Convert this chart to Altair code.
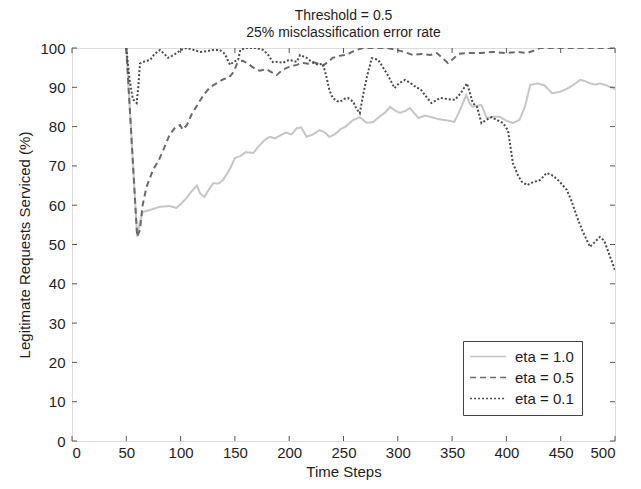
import altair as alt
import pandas as pd

# ---- data ----
series_names = ["eta = 1.0", "eta = 0.5", "eta = 0.1"]

eta10_x = [50, 60, 62, 65, 72, 81, 90, 96, 101, 106, 110, 115, 118, 122, 126, 130, 135, 139, 145,
           150, 155, 160, 167, 172, 177, 182, 187, 192, 197, 202, 207, 211, 216, 222, 228, 233, 237,
           242, 247, 252, 258, 265, 271, 277, 283, 288, 293, 298, 302, 307, 311, 315, 319, 325, 330,
           336, 342, 347, 352, 357, 363, 366, 369, 373, 377, 382, 388, 394, 400, 406, 412, 417, 422,
           429, 435, 442, 449, 455, 461, 468, 473, 477, 482, 486, 492, 498, 500]
eta10_y = [100, 52, 55, 58.3, 58.8, 59.6, 59.8, 59.3, 60.5, 62, 63.5, 65, 63, 62.1, 64, 65.6, 65.5,
           66.4, 69, 72, 72.5, 73.5, 73.3, 75, 76.5, 77.4, 77, 77.8, 78.5, 78, 79.6, 79.8, 77.4, 78,
           79.1, 78.5, 77.4, 78, 79.3, 80, 81.5, 82.4, 81, 81.1, 82.5, 83.5, 85, 84, 83.5, 84, 84.7,
           83.5, 82.2, 82.8, 82.5, 82, 81.7, 81.5, 81.2, 84, 88, 86, 85, 85.3, 85.5, 82.2, 82.5, 82.5,
           81.5, 80.9, 81.7, 85, 90.6, 91, 90.5, 88.5, 88.8, 89.5, 90.5, 91.9, 91.5, 91, 90.7, 91,
           90.5, 89.8, 89.5]

eta05_x = [50, 60, 62.6, 65, 68.7, 74.6, 80, 84, 90, 95, 99.5, 102, 106, 110, 115, 121, 127, 133,
           139, 145, 149, 152, 157, 162, 167, 173, 179, 184, 188.5, 194, 200, 207, 212, 218, 222,
           227, 231, 236, 240, 246, 253, 258, 262, 268, 290, 299, 306, 314, 322, 330, 336, 341, 346,
           350, 356, 363, 376, 388, 400, 410, 419, 425, 431, 500]
eta05_y = [100, 52, 53.7, 60, 64.7, 69, 71.5, 74, 78, 79.8, 80.4, 79.2, 80.5, 83, 85.3, 88, 90, 91,
           92, 92.6, 94, 96, 96.8, 96, 95, 94.2, 94.6, 93.8, 93.1, 94.5, 95.2, 95.7, 96.2, 96, 96.4,
           96, 95.5, 96.5, 97.5, 98, 98.3, 99, 99.5, 100, 100, 99.5, 99, 98.2, 98.5, 98.2, 98.7, 97.5,
           96.2, 97, 98.5, 98.7, 98.7, 99, 98.7, 99, 98.7, 99.3, 100, 100]

eta01_x = [50, 53, 56, 59.5, 61, 62.6, 66, 72, 76, 81, 85, 88.4, 92, 96.4, 100, 105.6, 112, 118,
           124, 130, 136, 140, 142, 145.5, 149, 153, 155, 160, 170, 176, 180, 185, 190, 194, 200,
           207, 210, 216, 222, 226, 231, 234, 237, 240, 244, 247, 250, 254, 259, 262, 265, 268, 271.5,
           276, 282, 286, 291, 297, 301, 306.6, 312, 317, 321, 325, 331, 339, 346, 352.6, 358, 363.6,
           366, 369, 373, 377, 382, 386.6, 391, 397, 401.5, 406, 410, 414, 419, 424, 431, 437, 443,
           449, 455.6, 460, 465, 470, 477, 481, 486, 490, 492.6, 496, 500]
eta01_y = [100, 92, 87, 86, 90, 96, 96.5, 97, 98.5, 99.5, 98.5, 97.5, 98, 98.7, 99.5, 100, 99.5, 99,
           99.2, 99.5, 99.5, 98.7, 97.8, 95.7, 96.5, 97, 99.5, 100, 100, 99.5, 98.5, 96.4, 96.5, 96.2,
           97, 96.5, 98.2, 97.5, 96.2, 95.8, 96, 93, 89.3, 87.3, 86.5, 86.3, 87, 87.3, 86.3, 84.5,
           83.4, 88, 92.6, 97.4, 97, 95.2, 93, 89.8, 91, 91.9, 91, 90, 89.5, 88, 86, 87.3, 87, 86.8,
           88.5, 91, 89, 86, 85, 80.9, 81.8, 82.4, 81.7, 80.9, 79, 70.7, 68, 66, 65.1, 65.8, 66.4,
           68.2, 67.5, 66, 63.9, 61, 57, 53.5, 49.4, 50.5, 51.9, 51, 49.1, 46.5, 43.5]

x_ticks = [0, 50, 100, 150, 200, 250, 300, 350, 400, 450, 500]
y_ticks = [0, 10, 20, 30, 40, 50, 60, 70, 80, 90, 100]

rows = []
for name, xs, ys in [(series_names[0], eta10_x, eta10_y),
                     (series_names[1], eta05_x, eta05_y),
                     (series_names[2], eta01_x, eta01_y)]:
    for i, (a, b) in enumerate(zip(xs, ys)):
        rows.append({"series": name, "t": a, "v": b, "i": i})
df = pd.DataFrame(rows)
xt = pd.DataFrame({"t": x_ticks})
yt = pd.DataFrame({"v": y_ticks})

W, H = 543, 393
FONT = "Liberation Sans"
TXT = "#1e1e1e"
FRAME = "#555555"

xscale = alt.Scale(domain=[0, 500], nice=False, zero=False)
yscale = alt.Scale(domain=[0, 100], nice=False, zero=False)

x_axis = alt.Axis(title="Time Steps", values=x_ticks, ticks=False, domain=False,
                  grid=False, labelPadding=4, titlePadding=4, labelFontSize=15,
                  titleFontSize=15, labelFont=FONT, titleFont=FONT, labelOverlap=False,
                  labelColor=TXT, titleColor=TXT, titleFontWeight="normal")
y_axis = alt.Axis(title="Legitimate Requests Serviced (%)", values=y_ticks, ticks=False,
                  domain=False, grid=False, labelPadding=7, titlePadding=7,
                  labelOverlap=False, labelFontSize=15, titleFontSize=15, labelFont=FONT,
                  titleFont=FONT, labelColor=TXT, titleColor=TXT, titleFontWeight="normal")

lines = alt.Chart(df).mark_line(strokeWidth=2, clip=True).encode(
    x=alt.X("t:Q", scale=xscale, axis=x_axis),
    y=alt.Y("v:Q", scale=yscale, axis=y_axis),
    color=alt.Color("series:N",
                    scale=alt.Scale(domain=series_names, range=["#c6c6c6", "#6a6a6a", "#4a4a4a"]),
                    legend=alt.Legend(title=None, orient="none", legendX=391, legendY=293,
                                      strokeColor="#444444", fillColor="white", padding=8,
                                      labelFontSize=15, labelFont=FONT, labelColor=TXT,
                                      symbolType="M-1.4,0H4.6", symbolSize=144, symbolStrokeWidth=1.5,
                                      labelOffset=29, rowPadding=5)),
    strokeDash=alt.StrokeDash("series:N",
                              scale=alt.Scale(domain=series_names, range=[[1, 0], [6, 4], [2, 2]]),
                              legend=None),
    order="i:Q",
)

tick_b = alt.Chart(xt).mark_rule(color=FRAME, strokeWidth=1).encode(
    x=alt.X("t:Q", scale=xscale, axis=x_axis), y=alt.value(H), y2=alt.value(H - 5))
tick_t = alt.Chart(xt).mark_rule(color=FRAME, strokeWidth=1).encode(
    x=alt.X("t:Q", scale=xscale, axis=x_axis), y=alt.value(0), y2=alt.value(5))
tick_l = alt.Chart(yt).mark_rule(color=FRAME, strokeWidth=1).encode(
    y=alt.Y("v:Q", scale=yscale, axis=y_axis), x=alt.value(0), x2=alt.value(5))
tick_r = alt.Chart(yt).mark_rule(color=FRAME, strokeWidth=1).encode(
    y=alt.Y("v:Q", scale=yscale, axis=y_axis), x=alt.value(W), x2=alt.value(W - 5))

chart = alt.layer(lines, tick_b, tick_t, tick_l, tick_r).properties(
    width=W, height=H,
    title=alt.TitleParams(["Threshold = 0.5", "25% misclassification error rate"],
                          fontSize=14, fontWeight="normal", font=FONT, color=TXT,
                          lineHeight=17, offset=1, anchor="middle"),
    autosize=alt.AutoSizeParams(type="none"),
    padding={"left": 64, "top": 40, "right": 18, "bottom": 40},
).configure_view(stroke=FRAME, strokeWidth=1.2).configure(background="white")

chart.save("out.html", embed_options={"renderer": "svg", "actions": False})
